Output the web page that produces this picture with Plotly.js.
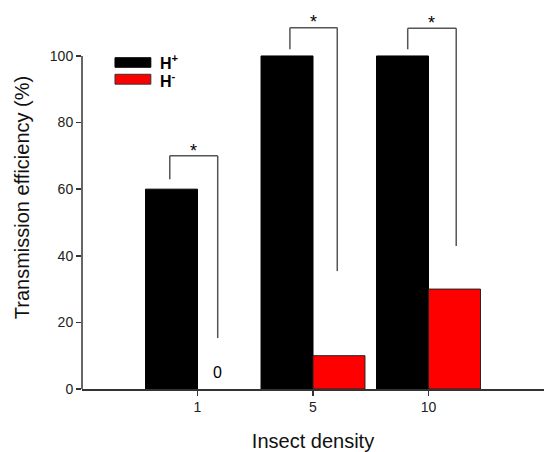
<!DOCTYPE html>
<html>
<head>
<meta charset="utf-8">
<script src="https://cdn.plot.ly/plotly-3.0.1.min.js"></script>
<style>html,body{margin:0;padding:0;background:#fff;}#chart{width:544px;height:452px;}</style>
</head>
<body>
<div id="chart"></div>
<script>
// ---- data ----
var categories = ['1', '5', '10'];
var hPlus = [60, 100, 100];
var hMinus = [0, 10, 30];
var seriesNames = ['H<sup>+</sup>', 'H<sup>-</sup>'];
// significance brackets (values in % units)
var bracketLeftY = [63, 102, 102];
var bracketTopY = [70, 108.5, 108.3];
var bracketRightY = [15.3, 35.4, 42.9];
var sigLabels = ['*', '*', '*'];
var zeroLabel = '0';
var yTicks = [0, 20, 40, 60, 80, 100];

// ---- layout constants ----
var leftOff = [-0.24, -0.2, -0.18];
var rightOff = [0.175, 0.21, 0.24];
var FONT = '"Liberation Sans", Arial, sans-serif';
var lineCol = '#555';

var traces = [
  {type: 'bar', x: categories, y: hPlus, name: seriesNames[0], showlegend: false,
   marker: {color: '#000000', line: {color: '#000', width: 1}}},
  {type: 'bar', x: categories, y: hMinus, name: seriesNames[1], showlegend: false,
   marker: {color: '#ff0000', line: {color: '#222',
     width: hMinus.map(function (v) { return v > 0 ? 1 : 0; })}}}
];

var shapes = [];
var annotations = [];
categories.forEach(function (c, i) {
  var xl = i + leftOff[i], xr = i + rightOff[i];
  annotations.push({x: (xl + xr) / 2, y: bracketTopY[i] - 2.0, xref: 'x', yref: 'y',
    text: sigLabels[i], showarrow: false, yanchor: 'bottom',
    font: {family: FONT, size: 18, color: '#000'}});
});
// y axis line up to 100 only
shapes.push({type: 'line', xref: 'paper', yref: 'y', x0: 0, x1: 0, y0: 0, y1: yTicks[yTicks.length - 1],
  line: {color: '#333', width: 1.5}});
// legend swatches
shapes.push({type: 'rect', xref: 'paper', yref: 'paper', x0: 0.0714, x1: 0.149, y0: 0.840, y1: 0.865,
  fillcolor: '#000', line: {color: '#000', width: 1}});
shapes.push({type: 'rect', xref: 'paper', yref: 'paper', x0: 0.0714, x1: 0.149, y0: 0.796, y1: 0.8217,
  fillcolor: '#ff0000', line: {color: '#333', width: 1}});
annotations.push({xref: 'paper', yref: 'paper', x: 0.164, y: 0.855, xanchor: 'left', yanchor: 'middle',
  text: '<b>' + seriesNames[0] + '</b>', showarrow: false, font: {family: FONT, size: 16, color: '#000'}});
annotations.push({xref: 'paper', yref: 'paper', x: 0.164, y: 0.808, xanchor: 'left', yanchor: 'middle',
  text: '<b>' + seriesNames[1] + '</b>', showarrow: false, font: {family: FONT, size: 16, color: '#000'}});
annotations.push({x: 0 + rightOff[0], y: 5, xref: 'x', yref: 'y', text: zeroLabel, showarrow: false,
  font: {family: FONT, size: 16, color: '#000'}});

var layout = {
  width: 544, height: 452,
  margin: {l: 82, r: 0, t: 6, b: 63, pad: 0},
  paper_bgcolor: '#fff', plot_bgcolor: '#fff',
  barmode: 'group', bargap: 0.1, bargroupgap: 0,
  font: {family: FONT, color: '#000'},
  xaxis: {type: 'category', categoryorder: 'array', categoryarray: categories,
    range: [-1, 3], showline: true, linecolor: '#333', linewidth: 1.5,
    ticks: 'outside', ticklen: 5, tickcolor: '#333', tickwidth: 1.5,
    showgrid: false, zeroline: false, automargin: false,
    tickfont: {family: FONT, size: 14, color: '#222'},
    title: {text: 'Insect density', font: {family: FONT, size: 20, color: '#111'}, standoff: 19}},
  yaxis: {range: [0, 115], showline: false, tickmode: 'array', tickvals: yTicks,
    ticks: 'outside', ticklen: 5, tickcolor: '#333', tickwidth: 1.5,
    showgrid: false, zeroline: false, automargin: false,
    tickfont: {family: FONT, size: 14, color: '#222'},
    title: {text: 'Transmission efficiency (%)', font: {family: FONT, size: 20, color: '#111'}, standoff: 14}},
  shapes: shapes,
  annotations: annotations
};

categories.forEach(function (c, i) {
  var xl = i + leftOff[i], xr = i + rightOff[i];
  layout.shapes.push({type: 'line', xref: 'x', yref: 'y', x0: xl, x1: xl, y0: bracketLeftY[i], y1: bracketTopY[i],
    line: {color: lineCol, width: 1.5}});
  layout.shapes.push({type: 'line', xref: 'x', yref: 'y', x0: xl, x1: xr, y0: bracketTopY[i], y1: bracketTopY[i],
    line: {color: lineCol, width: 1.5}});
  layout.shapes.push({type: 'line', xref: 'x', yref: 'y', x0: xr, x1: xr, y0: bracketTopY[i], y1: bracketRightY[i],
    line: {color: lineCol, width: 1.5}});
});

Plotly.newPlot('chart', traces, layout, {displayModeBar: false, staticPlot: true});
</script>
</body>
</html>
